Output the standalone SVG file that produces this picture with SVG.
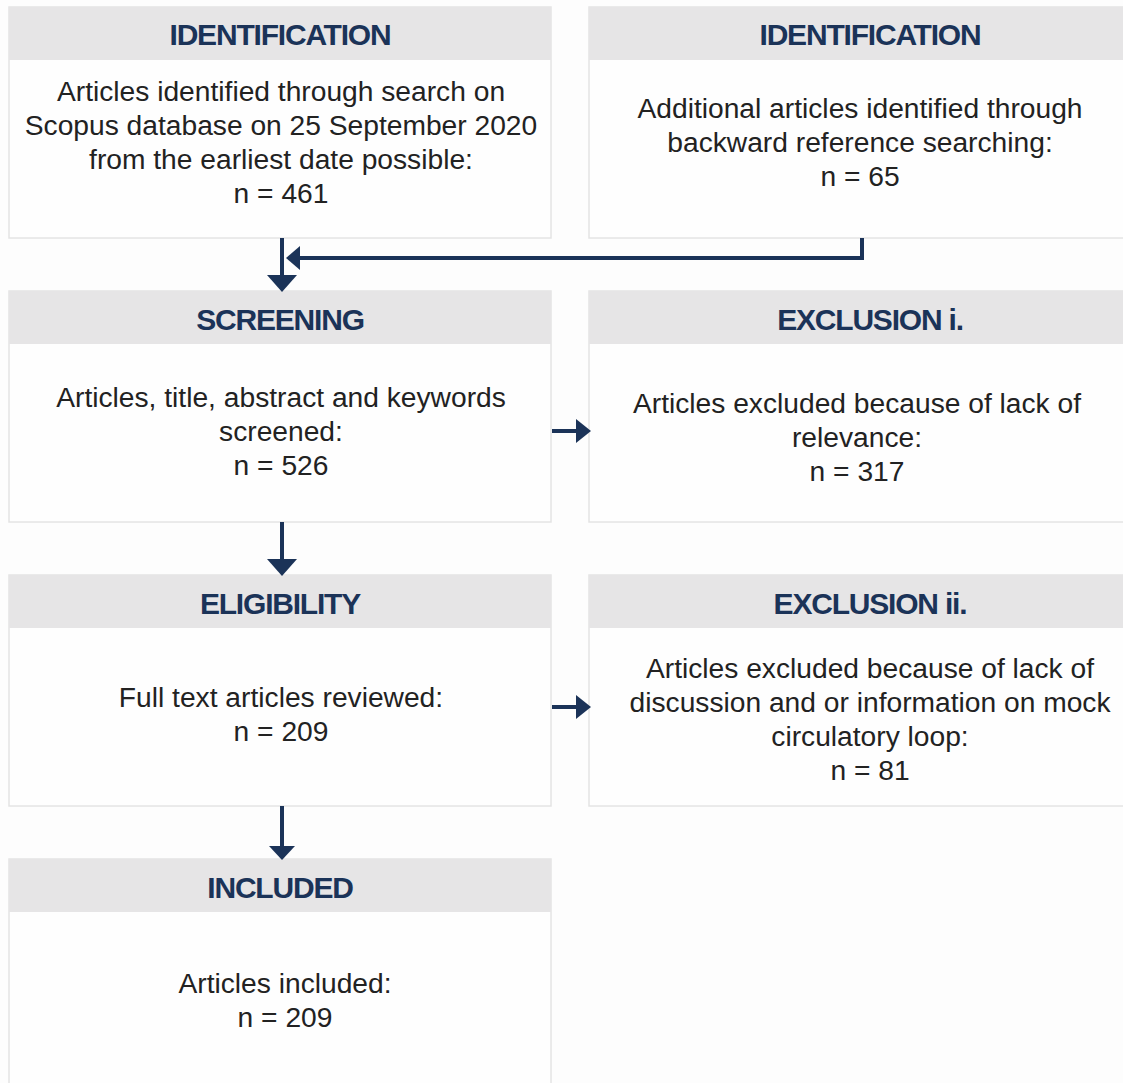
<svg xmlns="http://www.w3.org/2000/svg" width="1123" height="1083" viewBox="0 0 1123 1083">
<style>
.bg{fill:#fdfdfd}
.box{fill:#fefefe;stroke:#e4e4e4;stroke-width:1.5}
.hdr{fill:#e6e5e6}
.ht{font-family:"Liberation Sans",Arial,sans-serif;font-weight:bold;font-size:30px;letter-spacing:-1.2px;fill:#1b3358;text-anchor:middle}
.bt{font-family:"Liberation Sans",Arial,sans-serif;font-size:28.2px;fill:#222;text-anchor:middle}
.ln{stroke:#1b3358;stroke-width:4;fill:none}
.ah{fill:#1b3358}
</style>
<rect class="bg" width="1123" height="1083"/>
<g id="ident-left">
<rect class="box" x="9" y="7" width="542" height="231"/>
<rect class="hdr" x="9" y="7" width="542" height="53"/>
<text class="ht" x="280" y="45">IDENTIFICATION</text>
<text class="bt" x="281" y="101">Articles identified through search on</text>
<text class="bt" x="281" y="135">Scopus database on 25 September 2020</text>
<text class="bt" x="281" y="169">from the earliest date possible:</text>
<text class="bt" x="281" y="203">n = 461</text>
</g>
<g id="ident-right">
<rect class="box" x="589" y="7" width="545" height="231"/>
<rect class="hdr" x="589" y="7" width="545" height="53"/>
<text class="ht" x="870" y="45">IDENTIFICATION</text>
<text class="bt" x="860" y="118">Additional articles identified through</text>
<text class="bt" x="860" y="152">backward reference searching:</text>
<text class="bt" x="860" y="186">n = 65</text>
</g>
<g id="screening">
<rect class="box" x="9" y="291" width="542" height="231"/>
<rect class="hdr" x="9" y="291" width="542" height="53"/>
<text class="ht" x="280" y="330">SCREENING</text>
<text class="bt" x="281" y="407">Articles, title, abstract and keywords</text>
<text class="bt" x="281" y="441">screened:</text>
<text class="bt" x="281" y="475">n = 526</text>
</g>
<g id="exclusion1">
<rect class="box" x="589" y="291" width="545" height="231"/>
<rect class="hdr" x="589" y="291" width="545" height="53"/>
<text class="ht" x="870" y="330">EXCLUSION i.</text>
<text class="bt" x="857" y="413">Articles excluded because of lack of</text>
<text class="bt" x="857" y="447">relevance:</text>
<text class="bt" x="857" y="481">n = 317</text>
</g>
<g id="eligibility">
<rect class="box" x="9" y="575" width="542" height="231"/>
<rect class="hdr" x="9" y="575" width="542" height="53"/>
<text class="ht" x="280" y="614">ELIGIBILITY</text>
<text class="bt" x="281" y="707">Full text articles reviewed:</text>
<text class="bt" x="281" y="741">n = 209</text>
</g>
<g id="exclusion2">
<rect class="box" x="589" y="575" width="545" height="231"/>
<rect class="hdr" x="589" y="575" width="545" height="53"/>
<text class="ht" x="870" y="614">EXCLUSION ii.</text>
<text class="bt" x="870" y="678">Articles excluded because of lack of</text>
<text class="bt" x="870" y="712">discussion and or information on mock</text>
<text class="bt" x="870" y="746">circulatory loop:</text>
<text class="bt" x="870" y="780">n = 81</text>
</g>
<g id="included">
<rect class="box" x="9" y="859" width="542" height="240"/>
<rect class="hdr" x="9" y="859" width="542" height="53"/>
<text class="ht" x="280" y="898">INCLUDED</text>
<text class="bt" x="285" y="993">Articles included:</text>
<text class="bt" x="285" y="1027">n = 209</text>
</g>
<g id="connectors">
<line class="ln" x1="282" y1="238" x2="282" y2="276"/>
<polygon class="ah" points="267,275 297,275 282,292"/>
<polyline class="ln" points="862,238 862,258 298,258"/>
<polygon class="ah" points="286,258 300,246 300,270"/>
<line class="ln" x1="282" y1="522" x2="282" y2="560"/>
<polygon class="ah" points="267,559 297,559 282,576"/>
<line class="ln" x1="552" y1="431" x2="578" y2="431"/>
<polygon class="ah" points="576,419 576,443 591,431"/>
<line class="ln" x1="552" y1="707" x2="578" y2="707"/>
<polygon class="ah" points="576,695 576,719 591,707"/>
<line class="ln" x1="282" y1="806" x2="282" y2="846"/>
<polygon class="ah" points="269,846 295,846 282,860"/>
</g>
</svg>
